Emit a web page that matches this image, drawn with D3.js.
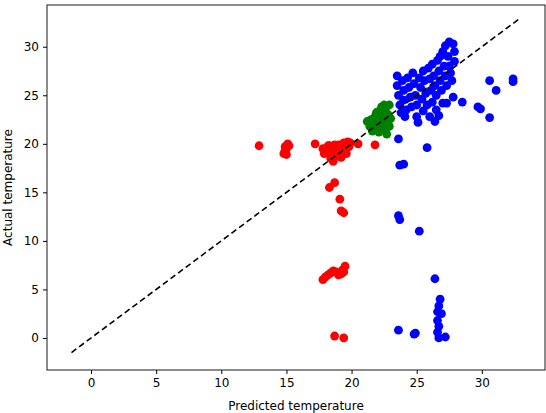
<!DOCTYPE html><html><head><meta charset="utf-8"><script src="https://cdn.jsdelivr.net/npm/d3@7"></script>
<style>body{margin:0;background:#fff}text{font-family:"DejaVu Sans",sans-serif}</style></head><body><svg id="c" width="546" height="413"></svg><script>
const xTicks=[0,5,10,15,20,25,30], yTicks=[0,5,10,15,20,25,30];
const redPts=[[12.9,19.8],[14.8,19],[15,19.5],[15.1,20],[14.9,19.3],[15.2,19.8],[15,18.9],[14.9,19.7],[17.2,20],[17.8,19.5],[17.9,19],[18.1,19.3],[18.2,19.8],[18.4,18.5],[18.5,19],[18.6,18.2],[18.8,19.6],[18.9,18.8],[19,19.9],[19.1,19.3],[19.2,18.6],[19.4,20.1],[19.5,19.6],[19.6,19],[19.7,20.2],[19.8,19.7],[19.9,20.1],[18.3,19.8],[18.7,19.9],[19.3,19.9],[20.5,20],[21.8,19.9],[18.3,15.5],[18.7,16],[19.1,14.3],[19.2,13.1],[19.4,12.9],[17.8,6],[18,6.3],[18.2,6.5],[18.4,6.7],[18.6,6.9],[18.8,6.8],[19,6.5],[19.2,6.6],[19.3,7],[19.5,7.4],[19.4,6.8],[18.7,0.2],[19.4,0]];
const greenPts=[[21.2,22.3],[21.4,21.8],[21.5,22.5],[21.6,21.3],[21.7,22],[21.8,22.8],[21.9,21.5],[22,22.3],[22,23.3],[22.1,21.2],[22.2,22],[22.3,23],[22.3,23.8],[22.4,21.6],[22.5,22.5],[22.6,23.4],[22.6,21.3],[22.7,22.2],[22.8,23],[22.9,24],[22.9,21.8],[23,22.6],[22.5,24],[21.9,23.2],[22.7,21]];
const bluePts=[[23.5,27],[23.5,26],[23.6,25],[23.7,24],[23.8,23.2],[23.9,26.5],[24,25.5],[24,24.5],[24.2,23.5],[24.3,26.8],[24.4,25.8],[24.5,24.8],[24.6,23.8],[24.7,27.3],[24.8,26.2],[24.9,25],[25,24],[25,22.8],[25.2,26.8],[25.3,25.8],[25.4,24.6],[25.5,23.4],[25.5,27.5],[25.6,26.5],[25.7,25.2],[25.8,24],[25.9,27.8],[26,26.7],[26,22.8],[26.1,25.5],[26.2,24.3],[26.2,28.2],[26.3,27],[26.4,26],[26.5,25],[26.5,23.5],[26.6,28.6],[26.7,27.5],[26.8,26.5],[26.8,29],[26.9,25.5],[27,24.2],[27,29.5],[27.1,28],[27.2,27],[27.2,30.1],[27.3,26],[27.4,29],[27.5,30.5],[27.5,28],[27.6,27.3],[27.7,26.5],[27.8,30.3],[27.9,29.5],[27.9,28.5],[27.8,24.8],[24.1,22.8],[25.1,22.2],[26.4,22.3],[26.7,22.9],[27.3,24.2],[28.5,24.3],[29.7,23.8],[29.9,23.6],[30.6,22.7],[30.6,26.5],[31.1,25.5],[32.4,26.7],[32.4,26.4],[25.8,19.6],[23.6,20.5],[23.7,17.8],[24,17.9],[23.6,12.6],[23.7,12.2],[25.2,11],[26.4,6.1],[26.8,4],[26.7,3.3],[26.6,2.7],[26.9,2.5],[26.6,1.8],[26.7,1.2],[26.6,0.6],[26.7,0],[27.2,0.1],[23.6,0.8],[24.8,0.4],[24.9,0.5]];
const lineEnds=[-1.5,32.8];
const svg=d3.select("#c");
const L=47,R=545,T=5,B=370;
const x=d3.scaleLinear().domain([-3.38,34.85]).range([L,R]);
const y=d3.scaleLinear().domain([-3.3,34.3]).range([B,T]);
const dots=[[redPts,"#ff0000"],[greenPts,"#008000"],[bluePts,"#0000ff"]];
dots.forEach(([p,c])=>svg.append("g").selectAll("circle").data(p).join("circle").attr("cx",d=>x(d[0])).attr("cy",d=>y(d[1])).attr("r",4.4).attr("fill",c));
svg.append("line").attr("x1",x(lineEnds[0])).attr("y1",y(lineEnds[0])).attr("x2",x(lineEnds[1])).attr("y2",y(lineEnds[1])).attr("stroke","#000").attr("stroke-width",1.6).attr("stroke-dasharray","6,3.5");
svg.append("rect").attr("x",L).attr("y",T).attr("width",R-L).attr("height",B-T).attr("fill","none").attr("stroke","#000").attr("stroke-width",0.9);
const xa=svg.append("g").attr("transform",`translate(0,${B})`).call(d3.axisBottom(x).tickValues(xTicks).tickSize(4).tickPadding(4));
const ya=svg.append("g").attr("transform",`translate(${L},0)`).call(d3.axisLeft(y).tickValues(yTicks).tickSize(4).tickPadding(4));
[xa,ya].forEach(a=>{a.select(".domain").remove();a.selectAll("text").attr("font-size",12).attr("font-family","DejaVu Sans").attr("fill","#000");});
svg.append("text").attr("x",(L+R)/2).attr("y",410).attr("text-anchor","middle").attr("font-size",12).text("Predicted temperature");
svg.append("text").attr("transform",`translate(12,${(T+B)/2}) rotate(-90)`).attr("text-anchor","middle").attr("font-size",12).text("Actual temperature");
</script></body></html>
